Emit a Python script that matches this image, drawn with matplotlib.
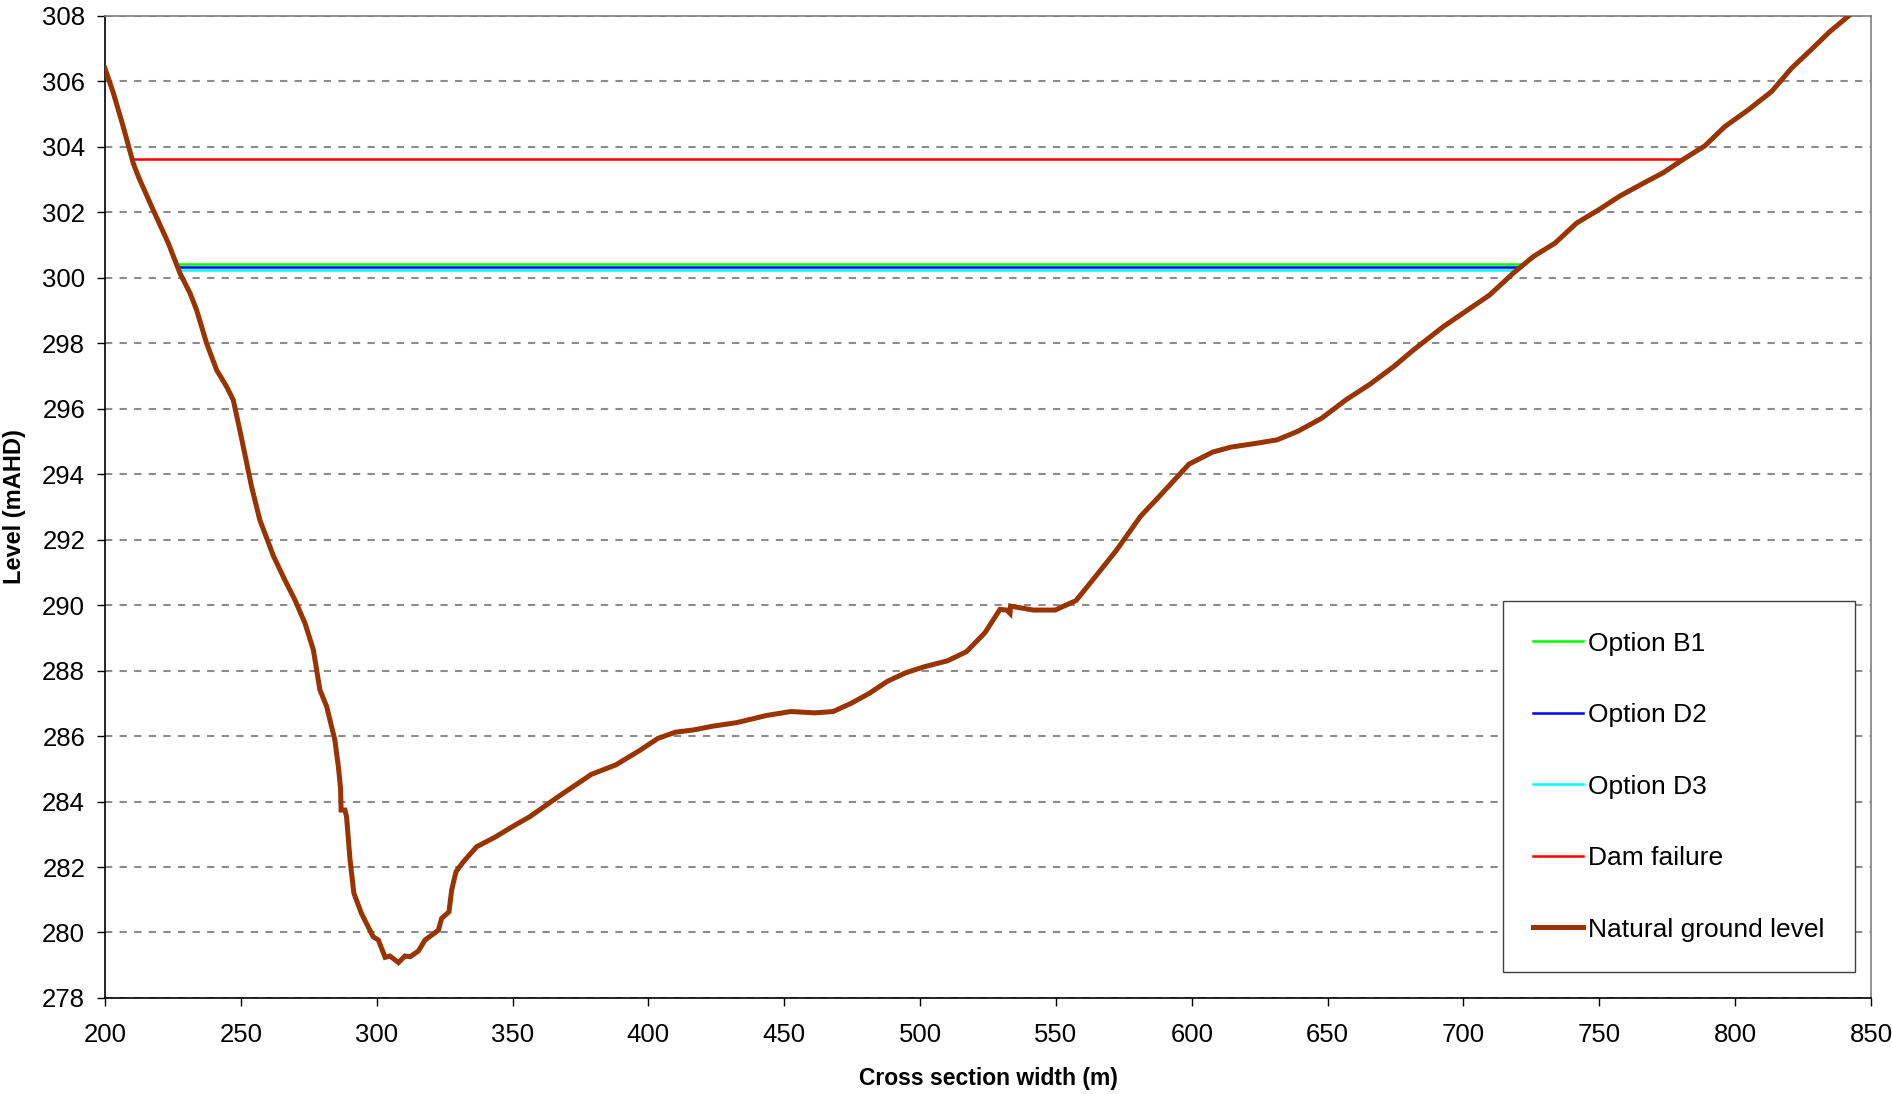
import numpy as np
import matplotlib
matplotlib.use('Agg')
import matplotlib.pyplot as plt

plt.rcParams['font.family'] = ['Liberation Sans', 'DejaVu Sans']

# natural ground level (cross section)
ground_x = [200, 203.1, 206.7, 210.4, 212.3, 217.2, 223.3, 227.6, 231.3, 233.7,
            237.4, 241.1, 244.8, 247.2, 250, 254, 257, 262, 266, 269.9,
            273.6, 276.7, 279.1, 281.6, 284.6, 285.9, 286.7, 286.9, 288.3, 288.9,
            290.2, 291.6, 294.4, 298.7, 300.6, 303.1, 304.9, 308.0, 310.4, 312.3,
            315.3, 317.8, 322.7, 323.9, 326.6, 327.6, 329.2, 331.9, 336.8, 343.5,
            350.9, 356.4, 367, 379, 388, 396.8, 403.5, 410, 416.8, 423.5,
            432.4, 443.5, 452.4, 461.2, 468, 474.6, 481.2, 487.9, 494.6, 501.2,
            510.1, 517.1, 523.9, 529.4, 531.9, 533.1, 533.3, 541.7, 549.7, 557.4,
            565.0, 572.3, 581.2, 587.9, 599, 607.8, 614.5, 623.4, 631.4, 639,
            647.8, 656.7, 665.6, 674.5, 681.5, 692.6, 709.7, 718.3, 725.7, 733.7,
            741.6, 749.6, 757.6, 766.2, 773.5, 780.9, 788.8, 796.2, 804.8, 813.4,
            820.7, 828.1, 834.8, 842.2]
ground_y = [306.4, 305.64, 304.62, 303.5, 303.09, 302.17, 301.06, 300.14, 299.53, 299.02,
            298.0, 297.18, 296.67, 296.27, 295.2, 293.6, 292.6, 291.5, 290.8, 290.16,
            289.45, 288.63, 287.41, 286.9, 285.88, 285.06, 284.4, 283.74, 283.74, 283.54,
            282.21, 281.2, 280.58, 279.87, 279.77, 279.24, 279.28, 279.08, 279.28, 279.26,
            279.43, 279.77, 280.07, 280.43, 280.63, 281.3, 281.86, 282.16, 282.62, 282.91,
            283.28, 283.54, 284.16, 284.83, 285.12, 285.56, 285.93, 286.12, 286.19, 286.3,
            286.41, 286.63, 286.75, 286.71, 286.75, 287.0, 287.3, 287.67, 287.93, 288.11,
            288.3, 288.58, 289.16, 289.87, 289.85, 289.75, 289.97, 289.85, 289.85, 290.14,
            290.92, 291.68, 292.72, 293.31, 294.31, 294.68, 294.83, 294.94, 295.05, 295.31,
            295.71, 296.27, 296.75, 297.3, 297.79, 298.51, 299.48, 300.14, 300.65, 301.06,
            301.67, 302.07, 302.5, 302.89, 303.21, 303.62, 304.03, 304.62, 305.13, 305.69,
            306.4, 306.98, 307.52, 308.03]

# water levels: name, level, extent across the section
option_names = ['Option B1', 'Option D2', 'Option D3', 'Dam failure']
option_levels = [300.42, 300.32, 300.25, 303.63]
option_x_start = [227.2, 227.4, 227.5, 210.3]
option_x_end = [722.0, 720.0, 719.6, 779.8]
option_colors = ['#00FF00', '#0000FF', '#00FFFF', '#FF0000']

ground_color = '#993300'

fig = plt.figure(figsize=(18.92, 10.94), dpi=100)
ax = fig.add_axes([0.0555, 0.0878, 0.9334, 0.8976])

for name, lvl, x0, x1, c in zip(option_names, option_levels, option_x_start, option_x_end, option_colors):
  ax.plot([x0, x1], [lvl, lvl], color=c, linewidth=1.8, label=name, zorder=3)

ax.plot(ground_x, ground_y, color=ground_color, linewidth=3.6, label='Natural ground level',
        solid_joinstyle='miter', zorder=4)

ax.set_xlim(200, 850)
ax.set_ylim(278, 308)
ax.set_xticks(np.arange(200, 851, 50))
ax.set_yticks(np.arange(278, 309, 2))

ax.yaxis.grid(True, color='#8c8c8c', linewidth=1.5, linestyle=(0, (3.5, 3.5)), zorder=1)
ax.set_axisbelow(True)

for side in ['left', 'bottom']:
  ax.spines[side].set_color('black')
  ax.spines[side].set_linewidth(1.2)
for side in ['top', 'right']:
  ax.spines[side].set_color('#808080')
  ax.spines[side].set_linewidth(1.2)

ax.tick_params(axis='both', direction='out', length=5.8, width=1.0, labelsize=18.5, color='black')
ax.tick_params(axis='y', pad=8.5)
ax.tick_params(axis='x', pad=12)

ax.set_xlabel('Cross section width (m)', fontsize=16.5, fontweight='bold', va='center')
ax.set_ylabel('Level (mAHD)', fontsize=17, fontweight='bold', va='center')
ax.xaxis.set_label_coords(0.5, -0.0825)
ax.yaxis.set_label_coords(-0.0515, 0.5)

leg = ax.legend(loc='lower right', bbox_to_anchor=(0.991, 0.0265), fontsize=19,
                frameon=True, fancybox=False, shadow=False, borderpad=1.15,
                labelspacing=1.8, handlelength=1.9, handletextpad=0.2,
                borderaxespad=0)
leg.get_frame().set_edgecolor('#404040')
leg.get_frame().set_linewidth(1.0)
leg.get_frame().set_alpha(1)

fig.savefig('out.png', dpi=100)
plt.close()
